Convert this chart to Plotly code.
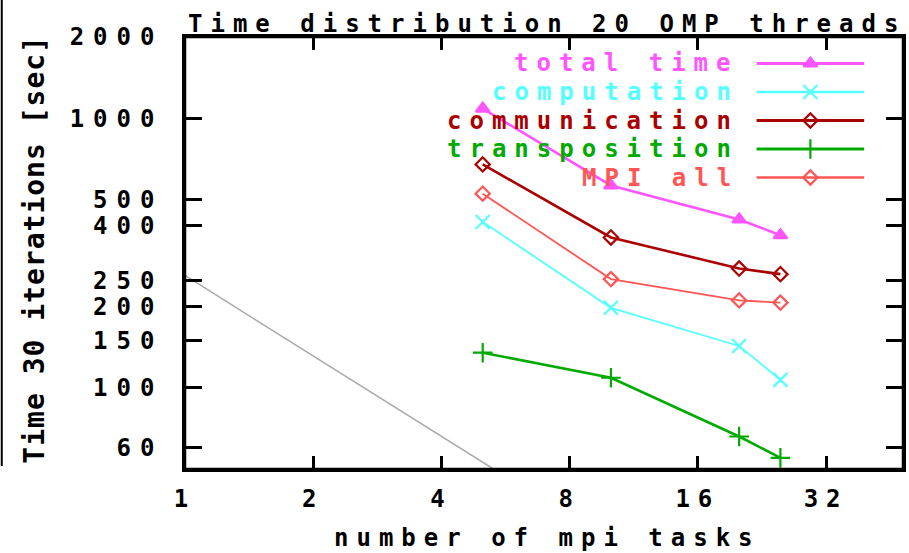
import plotly.graph_objects as go
import math

# ---------------- data ----------------
tasks = [5, 10, 20, 25]
total_time = [1085, 563, 421, 368]
computation = [412, 198, 143, 107]
communication = [674, 361, 277, 264]
transposition = [135, 109, 66, 55]
mpi_all = [525, 253, 211, 207]
ideal_x = [1, 5.3]
ideal_y = [261, 50]

x_ticks = [1, 2, 4, 8, 16, 32]
y_ticks = [60, 100, 150, 200, 250, 400, 500, 1000, 2000]

series_names = ["total time", "computation", "communication", "transposition", "MPI all"]
series_values = [total_time, computation, communication, transposition, mpi_all]
colors = ["#ff55ff", "#55ffff", "#aa0000", "#00aa00", "#ff5555"]
symbols = ["triangle-up", "x-thin-open", "diamond-open", "cross-thin-open", "diamond-open"]
msizes = [12, 14, 11, 14, 11]
lwidths = [2.6, 1.8, 2.6, 2.6, 1.8]

FONT = "DejaVu Sans Mono"
WEIGHT = 600
X_MAX = 48.5
Y_MIN, Y_MAX = 50, 2000


def sp(text, ls):
    return '<span style="letter-spacing:%dpx">%s</span>' % (ls, text)


# figure geometry (pixels)
W, H = 909, 553
L, R, T, B = 185, 3, 37, 84
PW = W - L - R
PH = H - T - B


def px_to_paper_x(px):
    return (px - L) / PW


def px_to_paper_y(py):
    return (H - B - py) / PH


def paper_to_data_x(p):
    return 10 ** (p * math.log10(X_MAX))


def paper_to_data_y(p):
    return 10 ** (math.log10(Y_MIN) + p * (math.log10(Y_MAX) - math.log10(Y_MIN)))


def fnt(size, color="black"):
    return dict(family=FONT, size=size, color=color, weight=WEIGHT)


fig = go.Figure()

# ideal scaling reference line (gray)
fig.add_trace(go.Scatter(x=ideal_x, y=ideal_y, mode="lines",
                         line=dict(color="#aaaaaa", width=1.5),
                         showlegend=False, hoverinfo="skip"))

for name, vals, c, s, ms, lw in zip(series_names, series_values, colors, symbols, msizes, lwidths):
    mk = dict(symbol=s, size=ms, color=c, line=dict(color=c, width=2.2))
    fig.add_trace(go.Scatter(x=tasks, y=vals, mode="lines+markers", name=name,
                             line=dict(color=c, width=lw), marker=mk,
                             showlegend=False))

# custom legend (text on the left, sample on the right)
leg_y_px = [63.5, 92, 120.5, 149, 177.5]
lx = [paper_to_data_x(px_to_paper_x(p)) for p in (759, 813, 867)]
annotations = []
for name, c, s, ms, lw, ypx in zip(series_names, colors, symbols, msizes, lwidths, leg_y_px):
    yp = px_to_paper_y(ypx)
    yd = paper_to_data_y(yp)
    fig.add_trace(go.Scatter(x=lx, y=[yd, yd, yd], mode="lines+markers",
                             line=dict(color=c, width=lw + 0.6),
                             marker=dict(symbol=s, size=ms, color=c,
                                         line=dict(color=c, width=2.2),
                                         opacity=[0, 1, 0]),
                             showlegend=False, hoverinfo="skip"))
    annotations.append(dict(xref="paper", yref="paper", x=px_to_paper_x(743), y=yp,
                            xanchor="right", yanchor="middle", showarrow=False,
                            text=sp(name, 8), font=fnt(24, c)))

# title
annotations.append(dict(xref="paper", yref="paper", x=px_to_paper_x(549), y=px_to_paper_y(24),
                        xanchor="center", yanchor="middle", showarrow=False,
                        text=sp("Time distribution 20 OMP threads", 8), font=fnt(24)))
# x title
annotations.append(dict(xref="paper", yref="paper", x=px_to_paper_x(549), y=px_to_paper_y(538),
                        xanchor="center", yanchor="middle", showarrow=False,
                        text=sp("number of mpi tasks", 8), font=fnt(24)))
# y title
annotations.append(dict(xref="paper", yref="paper", x=px_to_paper_x(34), y=px_to_paper_y(249),
                        xanchor="center", yanchor="middle", showarrow=False, textangle=-90,
                        text=sp("Time 30 iterations [sec]", 1), font=fnt(28)))

frame = dict(color="black", width=2.5)
shapes = [dict(type="line", xref="paper", yref="paper",
               x0=px_to_paper_x(1), x1=px_to_paper_x(1),
               y0=px_to_paper_y(0), y1=px_to_paper_y(466),
               line=dict(color="black", width=2)),
          dict(type="line", xref="paper", yref="paper", x0=0, x1=1, y0=0, y1=0, line=frame, layer="above"),
          dict(type="line", xref="paper", yref="paper", x0=0, x1=1, y0=1, y1=1, line=frame, layer="above"),
          dict(type="line", xref="paper", yref="paper", x0=0, x1=0, y0=0, y1=1, line=frame, layer="above"),
          dict(type="line", xref="paper", yref="paper", x0=1, x1=1, y0=0, y1=1, line=frame, layer="above")]

fig.update_layout(
    width=W, height=H,
    margin=dict(l=L, r=R, t=T, b=B, pad=0),
    paper_bgcolor="white", plot_bgcolor="white",
    font=fnt(24),
    annotations=annotations,
    showlegend=False,
    shapes=shapes,
    xaxis=dict(type="log", range=[0, math.log10(X_MAX)],
               tickvals=x_ticks, ticktext=[sp(str(v), 8) for v in x_ticks],
               ticks="inside", ticklen=13, tickwidth=2.5, tickcolor="black",
               showline=True, linecolor="black", linewidth=2.5, mirror="ticks",
               showgrid=False, zeroline=False, ticklabelstandoff=6,
               tickfont=fnt(24)),
    yaxis=dict(type="log", range=[math.log10(Y_MIN), math.log10(Y_MAX)],
               tickvals=y_ticks, ticktext=[sp(str(v), 9) for v in y_ticks],
               ticks="inside", ticklen=17, tickwidth=2.5, tickcolor="black",
               showline=True, linecolor="black", linewidth=2.5, mirror="ticks",
               showgrid=False, zeroline=False, ticklabelstandoff=14,
               tickfont=fnt(24)),
)

fig.write_html("out.html")
